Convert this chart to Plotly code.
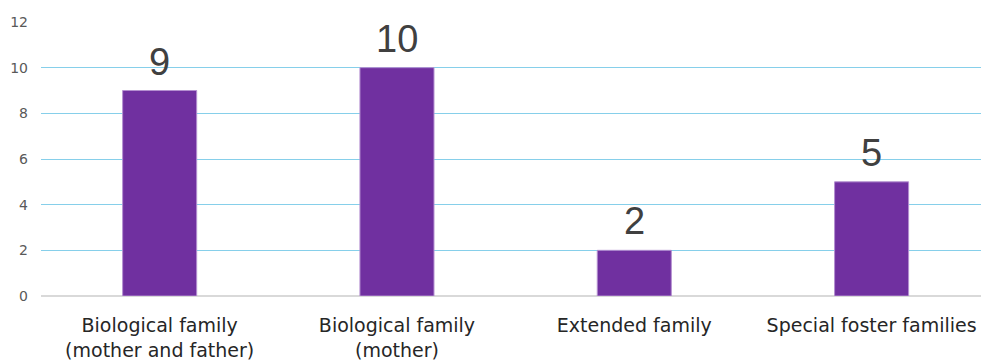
import plotly.graph_objects as go

categories = [
    "Biological family<br>(mother and father)",
    "Biological family<br>(mother)",
    "Extended family",
    "Special foster families",
]
values = [9, 10, 2, 5]
y_ticks = [0, 2, 4, 6, 8, 10, 12]

FONT = "DejaVu Sans"

fig = go.Figure(
    go.Bar(
        x=categories,
        y=values,
        width=0.312,
        marker=dict(color="#7030A0", line=dict(color="#B48FD0", width=1)),
        hoverinfo="skip",
    )
)

for cat, val in zip(categories, values):
    fig.add_annotation(
        x=cat, y=val, text=str(val), showarrow=False,
        yanchor="bottom", yshift=6,
        font=dict(family="Liberation Sans", size=38, color="#404040"),
    )

fig.update_layout(
    width=981, height=361,
    margin=dict(l=41, r=0, t=22, b=65),
    paper_bgcolor="white", plot_bgcolor="white",
    showlegend=False,
    xaxis=dict(
        range=[-0.5, 3.461],
        showgrid=False, showline=False, ticks="",
        ticklabelstandoff=16,
        tickfont=dict(family=FONT, size=19, color="#262626"),
    ),
    yaxis=dict(
        range=[0, 12], tickvals=y_ticks,
        showgrid=True, gridcolor="#86CFEA", gridwidth=1.3,
        zeroline=True, zerolinecolor="#D9D9D9", zerolinewidth=1.5,
        showline=False, ticks="", ticklabelstandoff=12,
        tickfont=dict(family=FONT, size=14, color="#595959"),
    ),
)

fig.write_html("out.html")
